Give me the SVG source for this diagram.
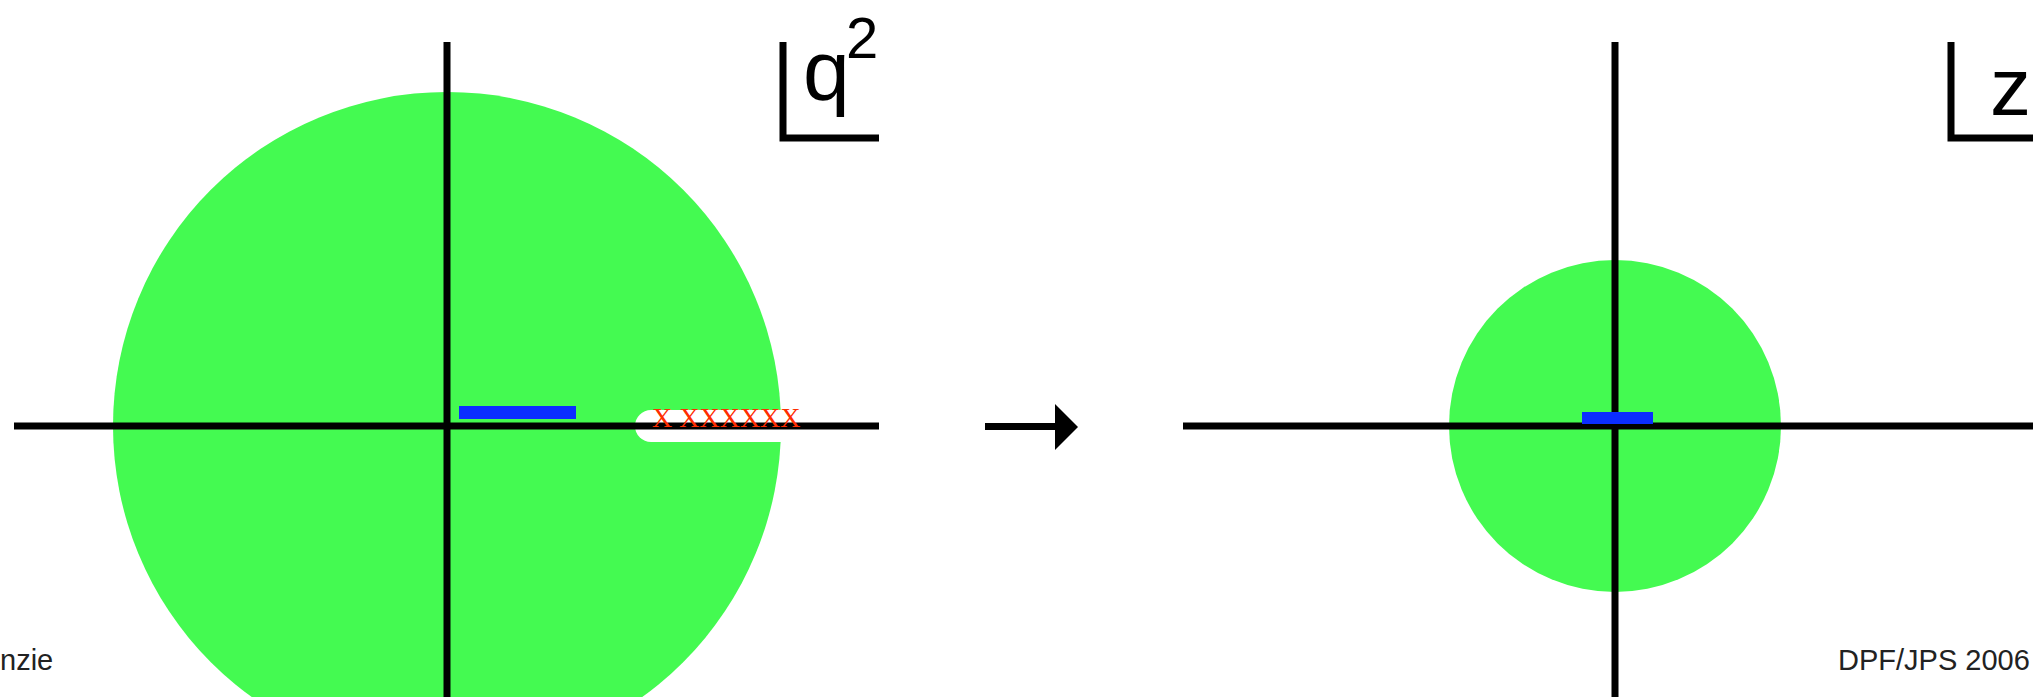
<svg xmlns="http://www.w3.org/2000/svg" width="2033" height="697" viewBox="0 0 2033 697">
<style>
.region{fill:#44fa51}
.cut{fill:#ffffff}
.axis{stroke:#000;stroke-width:7;fill:none}
.bar{fill:#0b2dff}
.pole{font-family:"Liberation Serif",serif;font-size:28px;fill:#ff2d00}
.lbl{font-family:"Liberation Sans",sans-serif;fill:#000}
.foot{font-family:"Liberation Sans",sans-serif;font-size:29px;fill:#222}
</style>
<rect width="2033" height="697" fill="#fff"/>
<g id="q2-plane">
  <circle class="region" cx="447" cy="426" r="334"/>
  <rect class="cut" x="635" y="410" width="260" height="32" rx="16"/>
  <line class="axis" x1="14" y1="426" x2="879" y2="426"/>
  <line class="axis" x1="447" y1="42" x2="447" y2="697"/>
  <rect class="bar" x="459" y="406" width="117" height="13"/>
  <text class="pole" x="652" y="427">X XXXXXX</text>
</g>
<g id="q2-label">
  <path class="axis" d="M783,42 V138 H879"/>
  <text class="lbl" x="803" y="100" font-size="84">q</text>
  <text class="lbl" x="846" y="58" font-size="58">2</text>
</g>
<g id="connectors">
  <line x1="985" y1="426.5" x2="1056" y2="426.5" stroke="#000" stroke-width="7"/>
  <polygon points="1055,404 1078,427 1055,450" fill="#000"/>
</g>
<g id="z-plane">
  <circle class="region" cx="1615" cy="426" r="166"/>
  <line class="axis" x1="1183" y1="426" x2="2048" y2="426"/>
  <line class="axis" x1="1615" y1="42" x2="1615" y2="697"/>
  <rect class="bar" x="1582" y="412" width="71" height="12"/>
</g>
<g id="z-label">
  <path class="axis" d="M1951,42 V138 H2040"/>
  <text class="lbl" x="1990" y="115" font-size="82">z</text>
</g>
<g id="footer">
  <text class="foot" x="0" y="670">nzie</text>
  <text class="foot" x="1838" y="670">DPF/JPS 2006</text>
</g>
</svg>
